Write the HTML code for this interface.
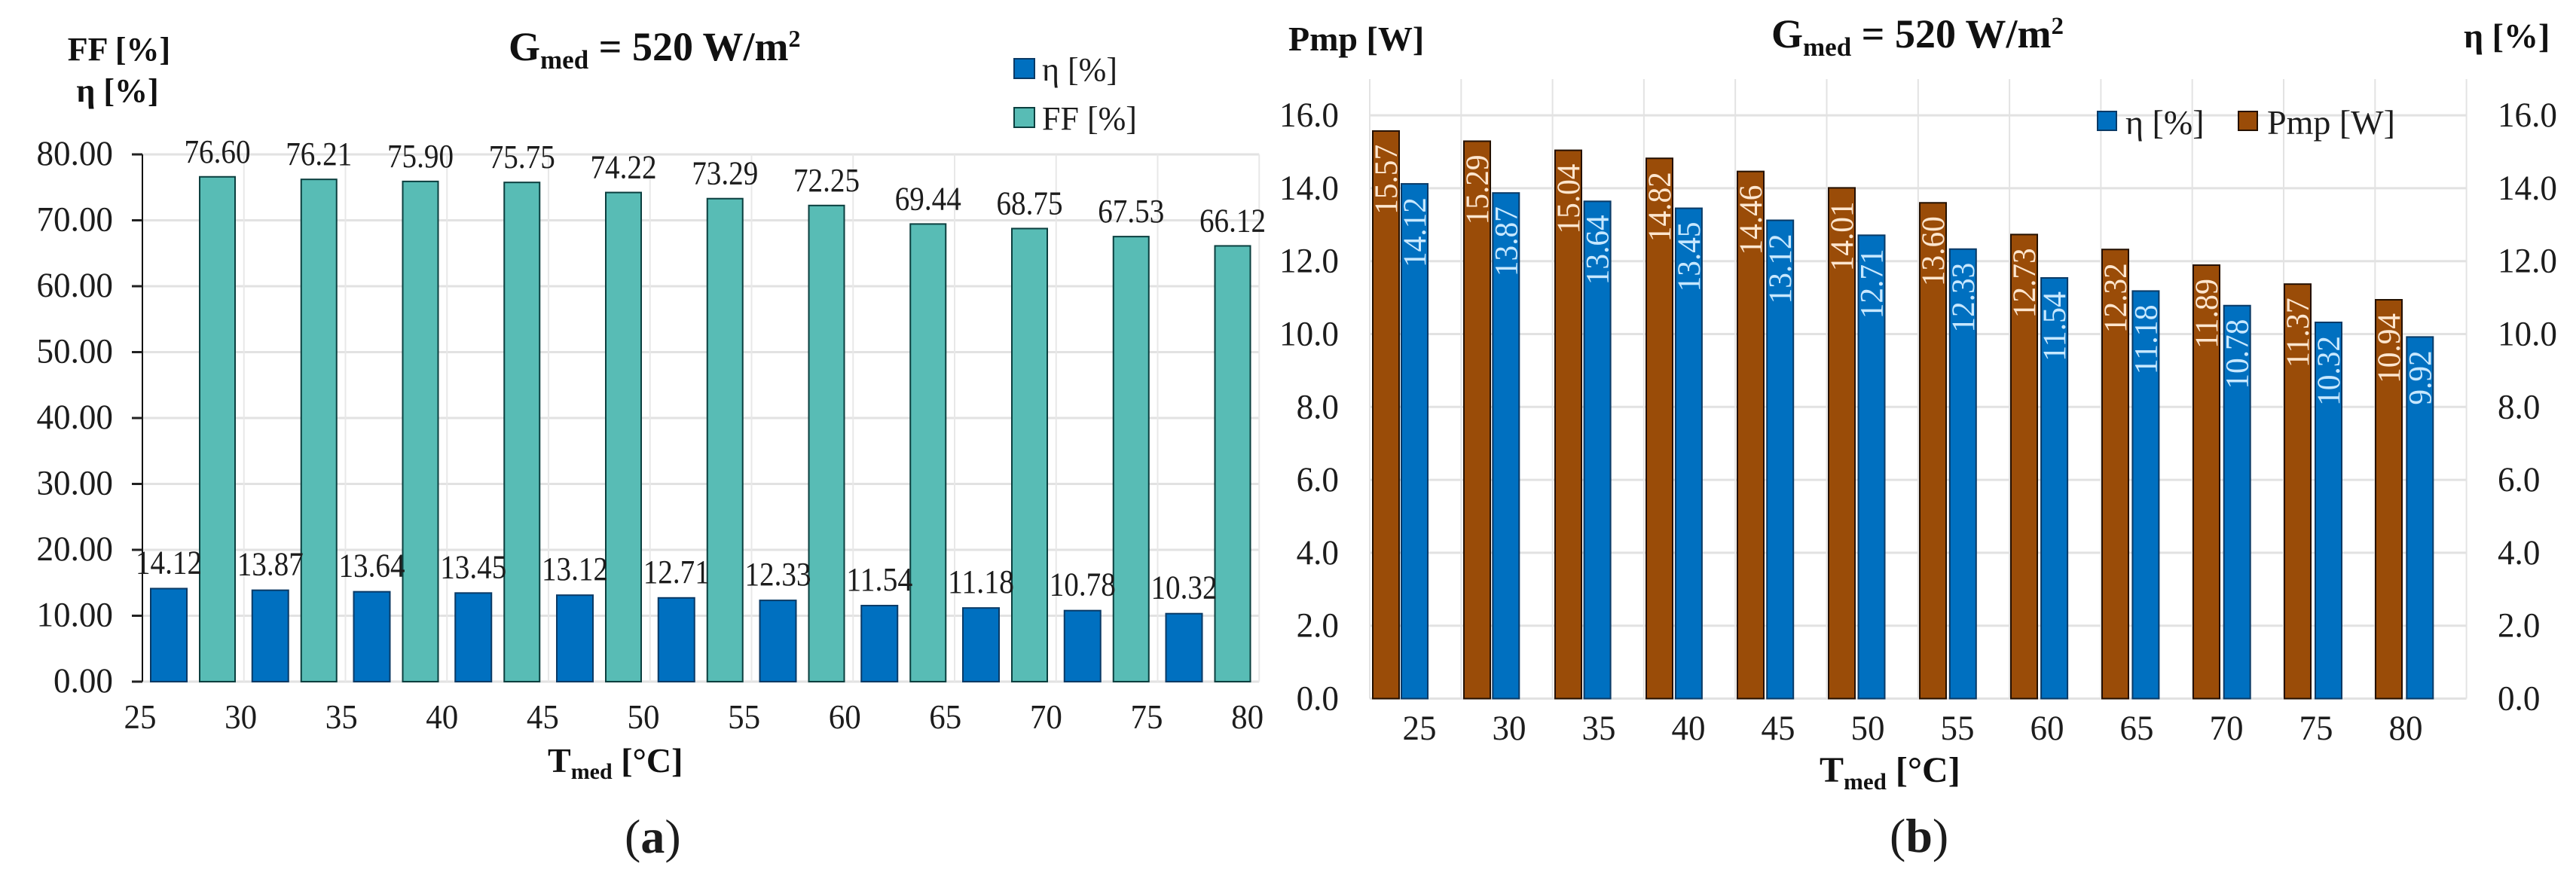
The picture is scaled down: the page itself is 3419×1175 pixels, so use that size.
<!DOCTYPE html>
<html lang="en">
<head>
<meta charset="utf-8">
<title>FF, efficiency and maximum power versus temperature</title>
<style>
html,body{margin:0;padding:0;background:#fff}
svg{display:block;font-family:"Liberation Serif","DejaVu Serif",serif;fill:#1c1c1c}
.bold{font-weight:bold;fill:#111}
</style>
</head>
<body>
<svg id="figure" xmlns="http://www.w3.org/2000/svg" width="3419" height="1175" viewBox="0 0 3419 1175">
  <rect x="0" y="0" width="3419" height="1175" fill="#ffffff"/>
  <g id="chartA"></g>
  <g id="chartB"></g>

  <text class="bold" x="158" y="80" font-size="44" text-anchor="middle">FF [%]</text>
  <text class="bold" x="156" y="135" font-size="44" text-anchor="middle">η [%]</text>
  <text class="bold" x="675" y="80" font-size="54">G<tspan font-size="35" dy="11">med</tspan><tspan dy="-11"> = 520 W/m</tspan><tspan font-size="32" dy="-18">2</tspan></text>
  <text class="bold" x="727" y="1025" font-size="46">T<tspan font-size="30" dy="9">med</tspan><tspan dy="-9"> [°C]</tspan></text>
  <text x="829" y="1132" font-size="64">(<tspan font-weight="bold">a</tspan>)</text>

  <rect x="1346" y="78" width="27" height="26" fill="#0070c0" stroke="#0a3a66" stroke-width="2"/>
  <text x="1383" y="107" font-size="44">η [%]</text>
  <rect x="1346" y="143" width="27" height="26" fill="#58bcb5" stroke="#0b3f3f" stroke-width="2"/>
  <text x="1383" y="172" font-size="44">FF [%]</text>

  <text class="bold" x="1710" y="67" font-size="46">Pmp [W]</text>
  <text class="bold" x="3270" y="63" font-size="46">η [%]</text>
  <text class="bold" x="2351" y="63" font-size="54">G<tspan font-size="35" dy="11">med</tspan><tspan dy="-11"> = 520 W/m</tspan><tspan font-size="33" dy="-18">2</tspan></text>
  <text class="bold" x="2415" y="1038" font-size="48">T<tspan font-size="31" dy="10">med</tspan><tspan dy="-10"> [°C]</tspan></text>
  <text x="2508" y="1131" font-size="64">(<tspan font-weight="bold">b</tspan>)</text>
</svg>
<script>
var categoriesA = [25, 30, 35, 40, 45, 50, 55, 60, 65, 70, 75, 80];
var etaValuesA = [14.12, 13.87, 13.64, 13.45, 13.12, 12.71, 12.33, 11.54, 11.18, 10.78, 10.32];
var ffValuesA = [76.60, 76.21, 75.90, 75.75, 74.22, 73.29, 72.25, 69.44, 68.75, 67.53, 66.12];
var yTicksA = [0, 10, 20, 30, 40, 50, 60, 70, 80];

var categoriesB = [25, 30, 35, 40, 45, 50, 55, 60, 65, 70, 75, 80];
var pmpValuesB = [15.57, 15.29, 15.04, 14.82, 14.46, 14.01, 13.60, 12.73, 12.32, 11.89, 11.37, 10.94];
var etaValuesB = [14.12, 13.87, 13.64, 13.45, 13.12, 12.71, 12.33, 11.54, 11.18, 10.78, 10.32, 9.92];
var yTicksB = [0, 2, 4, 6, 8, 10, 12, 14, 16];

var SVG_NS = 'http://www.w3.org/2000/svg';

function make(parent, tag, attrs, content) {
  var el = document.createElementNS(SVG_NS, tag);
  for (var k in attrs) { el.setAttribute(k, attrs[k]); }
  if (content !== undefined) { el.textContent = content; }
  parent.appendChild(el);
  return el;
}

/* Reference numerals are slightly condensed: squeeze a numeric string to 96% of its natural advance. */
function squeezedLength(str, fontSize) {
  return ((str.length - 1) * 0.5 + 0.25) * fontSize * 0.96;
}

/* ---------- Axis functions: chart (a) ---------- */
function yA(v) { return 905 - v * 8.75; }
function bandA(i) { return 189 + i * 134.75; }
function xLabelA(i) { return 186 + i * 133.6; }

/* ---------- Axis functions: chart (b) ---------- */
function yB(v) { return 927.5 - v * 48.4; }
function bandB(i) { return 1818 + i * 121.3; }
function barPmpB(i) { return 1822 + i * 121; }
function barEtaB(i) { return 1860 + i * 121.3; }
function xLabelB(i) { return 1884 + i * 119; }

var chartA = document.getElementById('chartA');
var chartB = document.getElementById('chartB');

/* ---------- Chart (a) ---------- */
yTicksA.forEach(function (t) {
  var line = make(chartA, 'line', { x1: 189, x2: bandA(11), y1: yA(t), y2: yA(t), stroke: '#e2e2e2', 'stroke-width': 3 });
  
  
});
for (var ga = 1; ga <= 11; ga++) {
  var vLineA = make(chartA, 'line', { x1: bandA(ga), x2: bandA(ga), y1: yA(80), y2: yA(0), stroke: '#e8e8e8', 'stroke-width': 2 });
  
  
}
var axisLineA = make(chartA, 'line', { x1: 189, x2: 189, y1: yA(80), y2: yA(0), stroke: '#111', 'stroke-width': 2 });



yTicksA.forEach(function (t) {
  var tick = make(chartA, 'line', { x1: 175, x2: 189, y1: yA(t), y2: yA(t), stroke: '#222', 'stroke-width': 3 });
  
  
  var str = t.toFixed(2);
  var label = make(chartA, 'text', { x: 150, y: yA(t) + 14, 'font-size': 47, 'text-anchor': 'end', textLength: squeezedLength(str, 47), lengthAdjust: 'spacingAndGlyphs' }, str);
  
  
});

categoriesA.forEach(function (c, i) {
  var label = make(chartA, 'text', { x: xLabelA(i), y: 967, 'font-size': 45, 'text-anchor': 'middle', textLength: 43, lengthAdjust: 'spacingAndGlyphs' }, c);
  
  
});

etaValuesA.forEach(function (v, i) {
  var x = bandA(i) + 11;
  var bar = make(chartA, 'rect', { x: x, y: yA(v), width: 48, height: yA(0) - yA(v), fill: '#0070c0', stroke: '#0a3a66', 'stroke-width': 2 });
  
  
});
ffValuesA.forEach(function (v, i) {
  var x = bandA(i) + 76;
  var bar = make(chartA, 'rect', { x: x, y: yA(v), width: 47, height: yA(0) - yA(v), fill: '#58bcb5', stroke: '#0b3f3f', 'stroke-width': 2 });
  
  
});
etaValuesA.forEach(function (v, i) {
  var label = make(chartA, 'text', { x: bandA(i) + 35, y: yA(v) - 20, 'font-size': 44, 'text-anchor': 'middle', textLength: 88, lengthAdjust: 'spacingAndGlyphs' }, v.toFixed(2));
  
  
});
ffValuesA.forEach(function (v, i) {
  var label = make(chartA, 'text', { x: bandA(i) + 99.5, y: yA(v) - 19, 'font-size': 44, 'text-anchor': 'middle', textLength: 88, lengthAdjust: 'spacingAndGlyphs' }, v.toFixed(2));
  
  
});

/* ---------- Chart (b) ---------- */
yTicksB.forEach(function (t) {
  var line = make(chartB, 'line', { x1: 1818, x2: bandB(12), y1: yB(t), y2: yB(t), stroke: '#e2e2e2', 'stroke-width': 3 });
  
  
  var str = t.toFixed(1);
  var leftLabel = make(chartB, 'text', { x: 1777, y: yB(t) + 15, 'font-size': 47, 'text-anchor': 'end', textLength: squeezedLength(str, 47), lengthAdjust: 'spacingAndGlyphs' }, str);
  
  
  var rightLabel = make(chartB, 'text', { x: 3315, y: yB(t) + 15, 'font-size': 47, textLength: squeezedLength(str, 47), lengthAdjust: 'spacingAndGlyphs' }, str);
  
  
});
for (var gb = 0; gb <= 12; gb++) {
  var vLineB = make(chartB, 'line', { x1: bandB(gb), x2: bandB(gb), y1: 105, y2: yB(0), stroke: '#e3e3e3', 'stroke-width': 2 });
  
  
}
categoriesB.forEach(function (c, i) {
  var label = make(chartB, 'text', { x: xLabelB(i), y: 982, 'font-size': 47, 'text-anchor': 'middle', textLength: 45, lengthAdjust: 'spacingAndGlyphs' }, c);
  
  
});
pmpValuesB.forEach(function (v, i) {
  var x = barPmpB(i);
  var bar = make(chartB, 'rect', { x: x, y: yB(v), width: 35, height: yB(0) - yB(v), fill: '#9a4c08', stroke: '#241000', 'stroke-width': 2 });
  
  
  var str = v.toFixed(2);
  var lx = x + 32;
  var ly = yB(v) + 18;
  var label = make(chartB, 'text', { x: lx, y: ly, 'font-size': 43, 'text-anchor': 'end', fill: '#fde6cf', textLength: squeezedLength(str, 43), lengthAdjust: 'spacingAndGlyphs', transform: 'rotate(-90 ' + lx + ' ' + ly + ')' }, str);
  
  
});
etaValuesB.forEach(function (v, i) {
  var x = barEtaB(i);
  var bar = make(chartB, 'rect', { x: x, y: yB(v), width: 35, height: yB(0) - yB(v), fill: '#0070c0', stroke: '#0a3a66', 'stroke-width': 2 });
  
  
  var str = v.toFixed(2);
  var lx = x + 32;
  var ly = yB(v) + 18;
  var label = make(chartB, 'text', { x: lx, y: ly, 'font-size': 43, 'text-anchor': 'end', fill: '#c8e8ff', textLength: squeezedLength(str, 43), lengthAdjust: 'spacingAndGlyphs', transform: 'rotate(-90 ' + lx + ' ' + ly + ')' }, str);
  
  
});

/* Legend of chart (b) sits above the bars and gridlines */
var legendB = [
  { name: 'eta', label: 'η [%]', sx: 2784, tx: 2821, fill: '#0070c0', stroke: '#0a3a66' },
  { name: 'pmp', label: 'Pmp [W]', sx: 2971, tx: 3009, fill: '#9a4c08', stroke: '#241000' }
];
legendB.forEach(function (e) {
  var sw = make(chartB, 'rect', { x: e.sx, y: 148, width: 25, height: 25, fill: e.fill, stroke: e.stroke, 'stroke-width': 2 });
  
  
  var tx = make(chartB, 'text', { x: e.tx, y: 178, 'font-size': 46 }, e.label);
  
  
});
</script>
</body>
</html>
